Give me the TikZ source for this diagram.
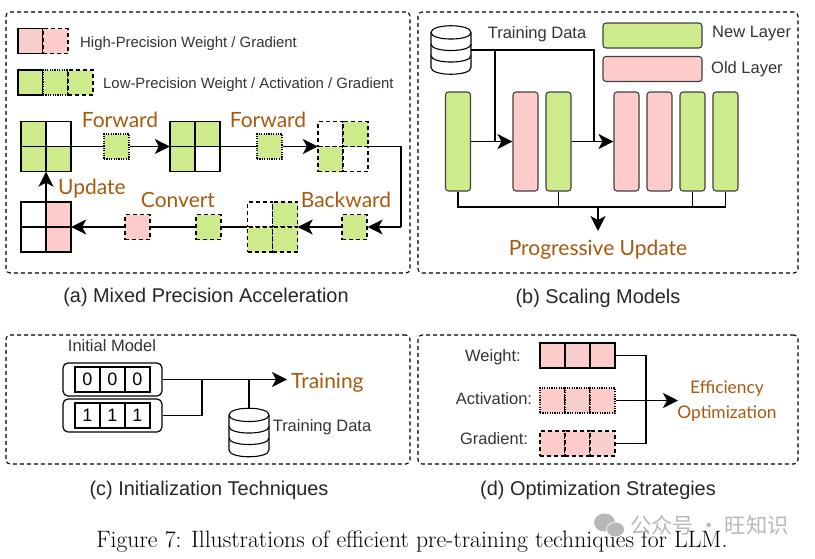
\documentclass[tikz,border=0pt]{standalone}
\usepackage{fontspec}
\setsansfont{Liberation Sans}
\newfontfamily\handfont{Lato}
\newfontfamily\cjkfont{Noto Sans CJK SC}
\usetikzlibrary{arrows.meta, positioning, calc}

\definecolor{lowgreen}{HTML}{CDEB8B}
\definecolor{highpink}{HTML}{FFCCCC}
\definecolor{softpink}{HTML}{F8CECC}
\definecolor{stepbrown}{HTML}{A65A0E}

\tikzset{
  cell/.style={draw,line width=1.3pt,minimum size=25pt,inner sep=0pt,font=\sffamily\fontsize{18}{20}\selectfont},
  cell dash/.style={cell,line width=1.2pt,dash pattern=on 4pt off 3pt},
  cell dot/.style={cell,line width=1.1pt,dash pattern=on 1.2pt off 1.2pt},
  panel/.style={draw,line width=1.1pt,dash pattern=on 4pt off 3pt,rounded corners=4pt,inner sep=0pt},
  layer/.style={draw=black!75,line width=1.1pt,rounded corners=3pt,inner sep=0pt},
  note/.style={text=black!80,inner sep=0pt,font=\sffamily\fontsize{16.5}{18}\selectfont},
  small note/.style={note,font=\sffamily\fontsize{14.9}{17}\selectfont},
  subcap/.style={text=black!85,inner sep=0pt,font=\sffamily\fontsize{19.9}{22}\selectfont},
  step label/.style={text=stepbrown,inner sep=0pt,font=\handfont\fontsize{21}{23}\selectfont},
  dbbox/.style={minimum width=40pt,minimum height=48pt,inner sep=0pt},
  wire/.style={line width=1.4pt},
}

% four cells of a 2x2 block, with a name for the whole block
\newcommand{\blockcells}[7]{
  \node[#4,fill=#5] (#1a) at (#2-12.5,#3-12.5) {};
  \node[#4,fill=#6] (#1b) [right of=#1a] {};
  \node[#4,fill=#7] (#1c) [below of=#1a] {};
}
\newcommand{\blocklast}[3]{
  \node[#2,fill=#3] (#1d) [right of=#1c] {};
  \node[minimum size=50pt,inner sep=0pt] (#1) at ($(#1a)!0.5!(#1d)$) {};
}

% stacked discs on top of a named node
\newcommand{\drawdb}[1]{
  \begin{scope}[shift={(#1.center)},line width=1.1pt]
    \draw[fill=white] (-20,-17) .. controls (-20,-26) and (20,-26) .. (20,-17) -- (20,18)
      .. controls (20,27) and (-20,27) .. (-20,18) -- cycle;
    \foreach \y in {-17,-5.5,6} {
      \draw (-20,\y) .. controls (-20,\y+8.7) and (20,\y+8.7) .. (20,\y);
    }
  \end{scope}
}

\begin{document}
\begin{tikzpicture}[x=1pt,y=-1pt,node distance=25pt,
  >={Stealth[length=15pt,width=15pt,inset=4pt]}]
  \useasboundingbox (0,0) rectangle (815,558);

  % panels
  \node[panel,minimum width=404pt,minimum height=261pt] (pa) at (208,142.5) {};
  \node[panel,minimum width=380pt,minimum height=261pt] (pb) at (608,142.5) {};
  \node[panel,minimum width=404pt,minimum height=129pt] (pc) at (208,399.5) {};
  \node[panel,minimum width=380pt,minimum height=129pt] (pd) at (608,399.5) {};

  % (a) legend
  \node[cell,fill=softpink] (k1) at (30.5,41) {};
  \node[cell dash,fill=highpink] (k2) [right of=k1] {};
  \node[small note,anchor=west] (k3) at (80,44) {High-Precision Weight / Gradient};
  \node[cell,fill=lowgreen] (k4) at (30.5,82.5) {};
  \node[cell dot,fill=lowgreen] (k5) [right of=k4] {};
  \node[cell dash,fill=lowgreen] (k6) [right of=k5] {};
  \node[small note,anchor=west] (k7) at (103,85) {Low-Precision Weight / Activation / Gradient};

  % (a) weight blocks
  \blockcells{ga}{46}{146.5}{cell}{lowgreen}{white}{lowgreen}
  \blocklast{ga}{cell}{lowgreen}
  \blockcells{gb}{195}{146.5}{cell}{lowgreen}{lowgreen}{lowgreen}
  \blocklast{gb}{cell}{white}
  \blockcells{gc}{343}{146.5}{cell dash}{white}{lowgreen}{lowgreen}
  \blocklast{gc}{cell dash}{white}
  \blockcells{gd}{272.5}{227}{cell dash}{white}{lowgreen}{lowgreen}
  \blocklast{gd}{cell dash}{lowgreen}
  \blockcells{ge}{46}{227}{cell}{white}{highpink}{white}
  \blocklast{ge}{cell}{highpink}

  % (a) tensors moving between the blocks
  \node[cell dot,fill=lowgreen] (s1) at (116.5,146.5) {};
  \node[cell dot,fill=lowgreen] (s2) at (269.5,146.5) {};
  \node[cell dash,fill=lowgreen] (s3) at (354.5,227) {};
  \node[cell dash,fill=lowgreen] (s4) at (208.5,227) {};
  \node[cell dash,fill=highpink] (s5) at (137.5,227) {};
  \coordinate (c1) at (401,146.5);
  \coordinate (c2) at (401,227);

  \path[wire]
    (ga) edge (s1)
    (s1) edge[->] (gb)
    (gb) edge (s2)
    (s2) edge[->] (gc)
    (c2) edge[->] (s3)
    (s3) edge[->] (gd)
    (gd) edge (s4)
    (s4) edge (s5)
    (s5) edge[->] (ge)
    (ge) edge[->] (ga);
  \draw[wire] (gc.east) -- (c1) -- (c2);

  \node[step label] (t1) at (120,120) {Forward};
  \node[step label] (t2) at (268,120) {Forward};
  \node[step label] (t3) at (346,200) {Backward};
  \node[step label] (t4) at (178,200) {Convert};
  \node[step label] (t5) at (92,189) {Update};
  \node[subcap] (capa) at (206,297.5) {(a) Mixed Precision Acceleration};

  % (b) legend and columns
  \node[dbbox] (db1) at (451,49.5) {};
  \drawdb{db1}
  \node[note] (d1) at (537,34) {Training Data};
  \node[layer,fill=lowgreen,minimum width=99pt,minimum height=25pt] (n1) at (652.5,35.5) {};
  \node[layer,fill=highpink,minimum width=99pt,minimum height=25pt] (n2) at (652.5,69) {};
  \node[note,anchor=west] (n3) at (712,34) {New Layer};
  \node[note,anchor=west] (n4) at (711,69) {Old Layer};

  \begin{scope}[node distance=33pt,every node/.append style={minimum width=25pt,minimum height=99pt}]
    \node[layer,fill=lowgreen] (l1) at (458,141.5) {};
    \node[layer,fill=highpink] (l2) at (525.5,141.5) {};
    \node[layer,fill=lowgreen] (l3) [right of=l2] {};
    \node[layer,fill=highpink] (l4) at (626.5,141.5) {};
    \node[layer,fill=highpink] (l5) [right of=l4] {};
    \node[layer,fill=lowgreen] (l6) [right of=l5] {};
    \node[layer,fill=lowgreen] (l7) [right of=l6] {};
  \end{scope}

  \coordinate (j1) at (495,50);
  \coordinate (j2) at (594,50);
  \coordinate (j3) at (495,141.5);
  \coordinate (j4) at (594,141.5);
  \coordinate (merge) at (598,207);
  \coordinate (down) at (598,231);
  \node[step label] (pu) at (598,250) {Progressive Update};

  \path[wire]
    (l1) edge[->] (l2)
    (l3) edge[->] (l4)
    (j1) edge (j3)
    (merge) edge[->] (down);
  \draw[wire] (db1.east |- j1) -- (j2) -- (j4);
  \draw[wire] (l1.south) |- (merge);
  \draw[wire] (l3.south) |- (merge);
  \draw[wire] (l6.south) |- (merge);
  \draw[wire] (l7.south) |- (merge);
  \node[subcap] (capb) at (598,298.5) {(b) Scaling Models};

  % (c) two initial models
  \node[note] (m0) at (112,346) {Initial Model};
  \node[draw,line width=1.2pt,rounded corners=5pt,minimum width=99pt,minimum height=33pt,inner sep=0pt] (m1) at (112.5,379.5) {};
  \node[draw,line width=1.2pt,rounded corners=5pt,minimum width=99pt,minimum height=33pt,inner sep=0pt] (m2) at (112.5,415.5) {};
  \node[cell] (a1) at (87.5,379.5) {0};
  \node[cell] (a2) [right of=a1] {0};
  \node[cell] (a3) [right of=a2] {0};
  \node[cell] (b1) at (87.5,415.5) {1};
  \node[cell] (b2) [right of=b1] {1};
  \node[cell] (b3) [right of=b2] {1};

  \node[step label,anchor=west] (tr) at (291,383) {Training};
  \node[dbbox] (db2) at (249,432) {};
  \drawdb{db2}
  \node[note] (d2) at (322,427) {Training Data};
  \coordinate (h1) at (202,379.5);
  \coordinate (h2) at (249,379.5);
  \coordinate (h3) at (287,379.5);

  \path[wire]
    (m1.east) edge[->] (h3)
    (db2.north) edge (h2);
  \draw[wire] (m2) -| (h1);
  \node[subcap] (capc) at (209,490.5) {(c) Initialization Techniques};

  % (d) quantized tensors
  \node[note] (w0) at (493,357) {Weight:};
  \node[note] (w1) at (494,399) {Activation:};
  \node[note] (w2) at (494,439) {Gradient:};
  \node[cell,fill=highpink] (w3) at (552.5,355.5) {};
  \node[cell,fill=softpink] (w4) [right of=w3] {};
  \node[cell,fill=highpink] (w5) [right of=w4] {};
  \node[cell dot,fill=highpink] (w6) at (552.5,400.5) {};
  \node[cell dot,fill=softpink] (w7) [right of=w6] {};
  \node[cell dot,fill=highpink] (w8) [right of=w7] {};
  \node[cell dash,fill=highpink] (w9) at (552.5,443.5) {};
  \node[cell dash,fill=highpink] (w10) [right of=w9] {};
  \node[cell dash,fill=softpink] (w11) [right of=w10] {};

  \node[step label,font=\handfont\fontsize{17.4}{20}\selectfont] (e1) at (727,389) {Efficiency};
  \node[step label,font=\handfont\fontsize{17.4}{20}\selectfont] (e2) at (727,414) {Optimization};
  \coordinate (e3) at (678,400.5);
  \draw[wire] (w5.east) -| (646,443.5) -- (w11.east);
  \path[wire] (w8.east) edge[->] (e3);
  \node[subcap] (capd) at (598,490.5) {(d) Optimization Strategies};

  % figure line and mark in the corner
  \node[inner sep=0pt,font=\fontsize{23.7}{26}\selectfont] (fig) at (412,542) {Figure 7: Illustrations of efficient pre-training techniques for LLM.};
  \fill[black!28] (604.5,522.5) ellipse [x radius=10.5pt,y radius=9pt];
  \fill[black!28,draw=white,line width=0.6pt] (615.5,529.5) ellipse [x radius=9pt,y radius=7.5pt];
  \node[text=black!28,inner sep=0pt,font=\cjkfont\fontsize{21.3}{23}\selectfont] (wm) at (709.5,525) {公众号 · 旺知识};
\end{tikzpicture}
\end{document}
